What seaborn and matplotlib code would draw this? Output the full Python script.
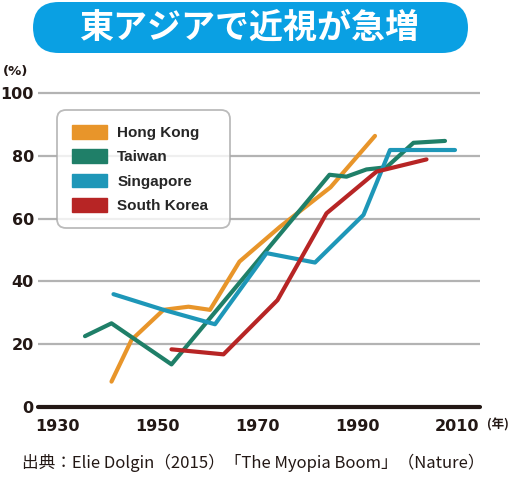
import numpy as np
import pandas as pd
import matplotlib
matplotlib.use("Agg")
import matplotlib.pyplot as plt
import seaborn as sns
from matplotlib.patches import FancyBboxPatch, Patch


# ==========================================
# DATA
# ==========================================

hk_years = [1940.8, 1944.8, 1951.2, 1956.2, 1960.5, 1966.4, 1974.5, 1984.6, 1993.5]
hk_vals = [8.0, 21.3, 30.9, 31.9, 30.9, 46.3, 57.4, 70.0, 86.4]

tw_years = [1935.5, 1940.8, 1952.8, 1984.4, 1987.8, 1991.8, 1995.8, 2001.2, 2007.5]
tw_vals = [22.5, 26.6, 13.5, 74.0, 73.4, 75.7, 76.4, 84.2, 84.8]

sg_years = [1941.2, 1951.2, 1961.5, 1971.8, 1981.5, 1991.2, 1996.5, 2009.5]
sg_vals = [35.9, 30.9, 26.3, 49.0, 46.0, 61.2, 81.9, 81.9]

kr_years = [1952.8, 1963.2, 1974.0, 1983.8, 1993.8, 2003.8]
kr_vals = [18.3, 16.7, 34.0, 61.7, 75.0, 78.9]

countries = ["Hong Kong", "Taiwan", "Singapore", "South Korea"]
colors = ["#E8952A", "#1F7F68", "#1E97B8", "#B72525"]

x_ticks = [1930, 1950, 1970, 1990, 2010]
y_ticks = [0, 20, 40, 60, 80, 100]

title = "東アジアで近視が急増"
source = "出典：Elie Dolgin（2015）「The Myopia Boom」（Nature）"


frames = []
for name, xs, ys in zip(
    countries,
    [hk_years, tw_years, sg_years, kr_years],
    [hk_vals, tw_vals, sg_vals, kr_vals],
):
    frames.append(pd.DataFrame({"year": xs, "value": ys, "country": name}))
df = pd.concat(frames, ignore_index=True)


# ==========================================
# PLOT
# ==========================================

sns.set_style("white")
plt.rcParams["font.family"] = ["DejaVu Sans"]

fig = plt.figure(figsize=(5.17, 4.83), dpi=100)
ax = fig.add_axes([0.0735, 0.158, 0.8549, 0.6586])

for y in y_ticks[1:]:
    ax.axhline(y, color="#B3B3B3", lw=1.6, zorder=0)

sns.lineplot(
    data=df,
    x="year",
    y="value",
    hue="country",
    hue_order=countries,
    palette=colors,
    lw=3,
    sort=False,
    estimator=None,
    legend=False,
    ax=ax,
)

ax.set_xlim(1926.1, 2014.5)
ax.set_ylim(0, 101.5)
ax.set_xticks(x_ticks)
ax.set_yticks(y_ticks)
ax.set_xlabel("")
ax.set_ylabel("")

for side in ["top", "right", "left"]:
    ax.spines[side].set_visible(False)
ax.spines["bottom"].set_linewidth(3)
ax.spines["bottom"].set_color("#231815")
ax.spines["bottom"].set_capstyle("round")

ax.tick_params(length=0)
ax.tick_params(axis="x", pad=9)
ax.tick_params(axis="y", pad=3)
for lab in ax.get_xticklabels() + ax.get_yticklabels():
    lab.set_fontweight("bold")
    lab.set_fontsize(11.5)
    lab.set_color("#231815")

handles = [Patch(facecolor=c, edgecolor=c, lw=1) for c in colors]
leg = ax.legend(
    handles,
    countries,
    loc="upper left",
    bbox_to_anchor=(0.043, 0.5, 0.391, 0.433),
    mode="expand",
    borderaxespad=0,
    frameon=True,
    fancybox=True,
    prop={"family": "Liberation Sans", "weight": "bold", "size": 11},
    handlelength=2.3,
    handleheight=1.0,
    handletextpad=0.65,
    labelspacing=0.6,
    borderpad=1.0,
)
leg.get_frame().set_edgecolor("#AAAAAA")
leg.get_frame().set_linewidth(1.3)
leg.get_frame().set_boxstyle("round,pad=0,rounding_size=0.6")

# title banner
box = FancyBboxPatch(
    (33 / 517, 1 - 53 / 483),
    435 / 517,
    51 / 483,
    boxstyle="round,pad=0,rounding_size=0.05",
    transform=fig.transFigure,
    facecolor="#0AA0E3",
    edgecolor="none",
    mutation_aspect=517 / 483,
)
fig.patches.append(box)
fig.text(
    250 / 517,
    1 - 27 / 483,
    title,
    ha="center",
    va="center",
    color="white",
    fontsize=24.5,
    fontweight="bold",
    family=["Noto Sans CJK JP", "DejaVu Sans"],
)

fig.text(3 / 517, 1 - 71 / 483, "(%)", ha="left", va="center",
         fontsize=9.5, fontweight="bold", color="#231815")
fig.text(487 / 517, 1 - 425 / 483, "(年)", ha="left", va="center",
         fontsize=9, fontweight="bold", color="#231815",
         family=["Noto Sans CJK JP", "DejaVu Sans"])

fig.text(22 / 517, 1 - 463 / 483, source, ha="left", va="center",
         fontsize=12, color="#231815",
         family=["Noto Sans CJK JP", "DejaVu Sans"])

fig.savefig("out.png", dpi=100)
